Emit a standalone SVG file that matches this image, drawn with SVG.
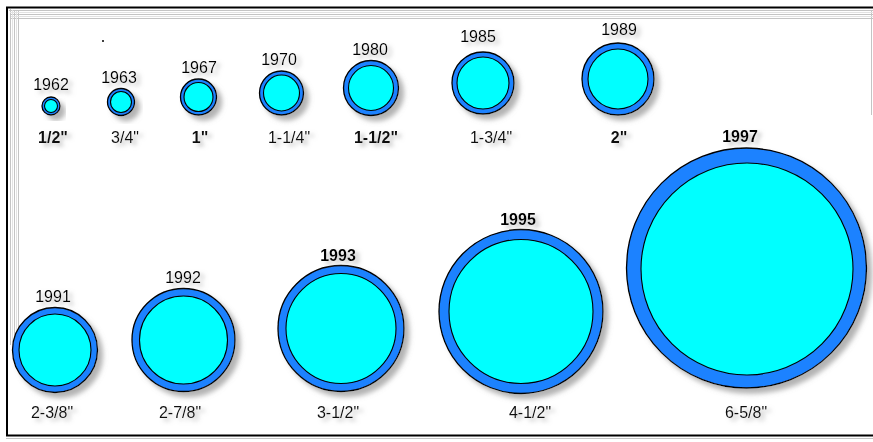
<svg xmlns="http://www.w3.org/2000/svg" width="873" height="442" viewBox="0 0 873 442">
<defs>
<style>
.outer{fill:#1f82ff;stroke:#000;stroke-width:1.3}
.inner{fill:#00ffff;stroke:#000;stroke-width:1.1}
.yr{font-family:"Liberation Sans",Arial,sans-serif;font-size:16px;fill:#000;text-anchor:middle}
.sz{font-family:"Liberation Sans",Arial,sans-serif;font-size:16px;font-weight:bold;fill:#111;text-anchor:middle}
.szb{font-family:"Liberation Sans",Arial,sans-serif;font-size:16px;fill:#111;text-anchor:middle}
.band{stroke-width:1}
</style>
<filter id="sh" x="-20%" y="-20%" width="150%" height="150%">
<feGaussianBlur in="SourceAlpha" stdDeviation="2.5" result="b"/>
<feOffset in="b" dx="5" dy="5" result="o"/>
<feFlood flood-color="#9a9a9a" flood-opacity="0.75"/>
<feComposite in2="o" operator="in" result="s"/>
<feMerge><feMergeNode in="s"/><feMergeNode in="SourceGraphic"/></feMerge>
</filter>
<filter id="tsh" x="-30%" y="-50%" width="170%" height="220%">
<feGaussianBlur in="SourceAlpha" stdDeviation="2" result="b"/>
<feOffset in="b" dx="4" dy="3" result="o"/>
<feFlood flood-color="#a0a0a0" flood-opacity="0.7"/>
<feComposite in2="o" operator="in" result="s"/>
<feMerge><feMergeNode in="s"/><feMergeNode in="SourceGraphic"/></feMerge>
</filter>
</defs>
<rect width="873" height="442" fill="#fff"/>
<g id="frame">
<g stroke="#c4c4c4" class="band">
<line x1="9" y1="10.5" x2="873" y2="10.5"/>
<line x1="10" y1="14.5" x2="873" y2="14.5"/>
<line x1="11" y1="18.5" x2="873" y2="18.5"/>
<line x1="10.5" y1="9" x2="10.5" y2="345"/>
<line x1="14.5" y1="10" x2="14.5" y2="345"/>
<line x1="18.5" y1="11" x2="18.5" y2="345"/>
<line x1="871.5" y1="10" x2="871.5" y2="115"/>
<line x1="6" y1="438.5" x2="873" y2="438.5"/>
</g>
<g stroke="#e2e2e2" class="band">
<line x1="10" y1="12.5" x2="873" y2="12.5"/>
<line x1="11" y1="16.5" x2="873" y2="16.5"/>
<line x1="12.5" y1="10" x2="12.5" y2="345"/>
<line x1="16.5" y1="11" x2="16.5" y2="345"/>
</g>
<line x1="6" y1="7.5" x2="873" y2="7.5" stroke="#000" stroke-width="2"/>
<line x1="7" y1="7" x2="7" y2="436" stroke="#000" stroke-width="2"/>
<line x1="6" y1="435.5" x2="873" y2="435.5" stroke="#000" stroke-width="2"/>
<circle cx="103" cy="41" r="1" fill="#000"/>
</g>
<g id="p1962"><g filter="url(#sh)"><circle class="outer" cx="51" cy="106" r="9"/><circle class="inner" cx="51" cy="106" r="6.5"/></g>
<text class="yr" x="51" y="90" filter="url(#tsh)">1962</text><text class="sz" x="53" y="143" filter="url(#tsh)">1/2"</text></g>
<g id="p1963"><g filter="url(#sh)"><circle class="outer" cx="121" cy="102" r="13.5"/><circle class="inner" cx="121" cy="102" r="10.5"/></g>
<text class="yr" x="119" y="83" filter="url(#tsh)">1963</text><text class="szb" x="125" y="143" filter="url(#tsh)">3/4"</text></g>
<g id="p1967"><g filter="url(#sh)"><circle class="outer" cx="198.5" cy="97" r="18"/><circle class="inner" cx="198.5" cy="97" r="14.5"/></g>
<text class="yr" x="199" y="73" filter="url(#tsh)">1967</text><text class="sz" x="200" y="143" filter="url(#tsh)">1"</text></g>
<g id="p1970"><g filter="url(#sh)"><circle class="outer" cx="281.5" cy="93" r="22"/><circle class="inner" cx="281.5" cy="93" r="18"/></g>
<text class="yr" x="279" y="65" filter="url(#tsh)">1970</text><text class="szb" x="289" y="143" filter="url(#tsh)">1-1/4"</text></g>
<g id="p1980"><g filter="url(#sh)"><circle class="outer" cx="371" cy="88" r="27.5"/><circle class="inner" cx="371" cy="88" r="22.5"/></g>
<text class="yr" x="370" y="55" filter="url(#tsh)">1980</text><text class="sz" x="376" y="143" filter="url(#tsh)">1-1/2"</text></g>
<g id="p1985"><g filter="url(#sh)"><circle class="outer" cx="483" cy="83" r="31"/><circle class="inner" cx="483" cy="83" r="26"/></g>
<text class="yr" x="478" y="42" filter="url(#tsh)">1985</text><text class="szb" x="491" y="143" filter="url(#tsh)">1-3/4"</text></g>
<g id="p1989"><g filter="url(#sh)"><circle class="outer" cx="618" cy="79" r="36"/><circle class="inner" cx="618" cy="79" r="30"/></g>
<text class="yr" x="619" y="35" filter="url(#tsh)">1989</text><text class="sz" x="619" y="143" filter="url(#tsh)">2"</text></g>
<g id="p1991"><g filter="url(#sh)"><circle class="outer" cx="55" cy="350" r="42.5"/><circle class="inner" cx="55" cy="350" r="36"/></g>
<text class="yr" x="53" y="302" filter="url(#tsh)">1991</text><text class="szb" x="52" y="418" filter="url(#tsh)">2-3/8"</text></g>
<g id="p1992"><g filter="url(#sh)"><circle class="outer" cx="183.5" cy="340" r="51.5"/><circle class="inner" cx="183.5" cy="340" r="44"/></g>
<text class="yr" x="183" y="283" filter="url(#tsh)">1992</text><text class="szb" x="180" y="418" filter="url(#tsh)">2-7/8"</text></g>
<g id="p1993"><g filter="url(#sh)"><circle class="outer" cx="341" cy="328.5" r="63"/><circle class="inner" cx="341" cy="328.5" r="55"/></g>
<text class="yr" x="338" y="261" style="font-weight:bold" filter="url(#tsh)">1993</text><text class="szb" x="338" y="418" filter="url(#tsh)">3-1/2"</text></g>
<g id="p1995"><g filter="url(#sh)"><circle class="outer" cx="521" cy="311.5" r="82"/><circle class="inner" cx="521" cy="311.5" r="72"/></g>
<text class="yr" x="518" y="225" style="font-weight:bold" filter="url(#tsh)">1995</text><text class="szb" x="530" y="418" filter="url(#tsh)">4-1/2"</text></g>
<g id="p1997"><g filter="url(#sh)"><circle class="outer" cx="746.5" cy="268" r="120"/><circle class="inner" cx="747" cy="269" r="106"/></g>
<text class="yr" x="740" y="142" style="font-weight:bold" filter="url(#tsh)">1997</text><text class="szb" x="746" y="418" filter="url(#tsh)">6-5/8"</text></g>
<g id="connectors"/>
</svg>
